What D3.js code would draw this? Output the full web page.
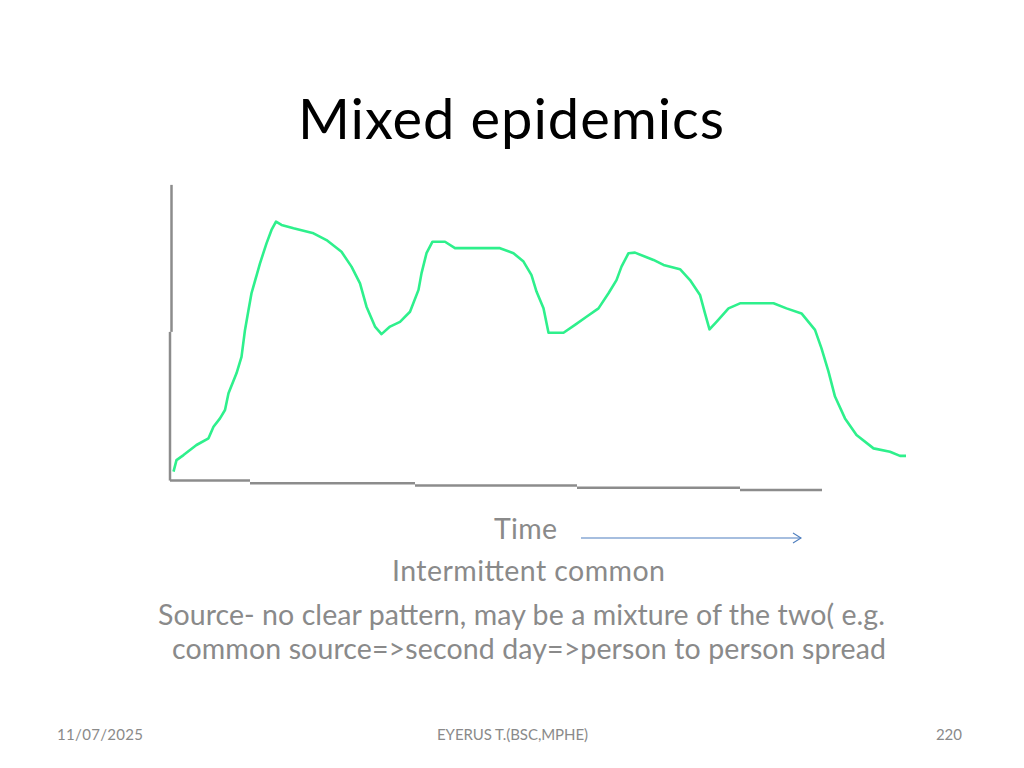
<!DOCTYPE html>
<html>
<head>
<meta charset="utf-8">
<script src="https://cdn.jsdelivr.net/npm/d3@7"></script>
<style>
  html, body { margin: 0; padding: 0; background: #fff; }
  svg { display: block; }
  text { font-family: Lato, "Open Sans", sans-serif; }
</style>
</head>
<body>
<svg id="chart" width="1024" height="768"></svg>
<script>
// ---- data (time units, case counts) ----
const timeUnits = [0.3,0.9,2.3,4.9,7.3,8.3,9.6,10.6,11.3,12.9,13.9,14.6,15.3,15.9,17.6,18.9,19.9,20.8,21.9,24.3,28.3,30.9,33.9,35.9,37.6,38.9,40.6,41.9,43.6,45.6,47.6,49.3,49.9,50.9,52.1,54.6,56.6,65.6,68.3,70.3,71.9,72.9,74.3,75.3,78.3,80.6,82.9,85.3,87.3,88.9,89.9,91.3,92.6,96.3,98.3,101.6,103.6,105.6,106.6,107.5,108.9,111.3,113.6,120.3,122.9,125.9,128.6,129.9,131.3,132.6,134.6,136.9,140.3,143.6,145.6,146.8];
const cases     = [3.0,7.1,8.9,12.5,14.9,19.0,22.0,25.0,31.0,38.1,44.0,53.6,60.7,66.7,77.4,84.5,89.3,92.3,91.1,89.9,88.1,85.7,81.5,76.2,70.2,61.9,54.8,52.1,54.8,56.5,60.1,67.9,73.8,81.0,85.1,85.1,82.8,82.8,81.0,78.0,73.2,67.3,61.3,52.6,52.6,55.4,58.3,61.3,66.7,71.4,76.2,81.0,81.2,78.6,76.8,75.3,71.4,66.1,59.5,53.8,56.5,61.3,63.1,63.1,61.3,59.5,53.6,47.0,38.7,29.8,22.0,16.1,11.3,10.1,8.6,8.6];

// hand-drawn axis pieces (data units)
const xAxisBreaks = [-0.4, 15.6, 48.6, 81.0, 113.6, 130.0];
const xAxisLevels = [-0.2, -1.2, -2.0, -2.8, -3.6];
const yAxisXs     = [-0.4, -0.1];
const yAxisBreaks = [-0.2, 52.9, 105.4];

const titleText = "Mixed epidemics";
const bodyLines = ["Time", "Intermittent common",
  "Source- no clear pattern, may be a mixture of the two( e.g.",
  "common source=>second day=>person to person spread"];
const footer = ["11/07/2025", "EYERUS T.(BSC,MPHE)", "220"];

// ---- drawing ----
const svg = d3.select("#chart");
const x = d3.scaleLinear().domain([0, 147]).range([172, 907]);
const y = d3.scaleLinear().domain([0, 100]).range([480, 200]);

const axisColor = "#8c8c8c";
const textGray = "#8a8a8a";

// title
svg.append("text").attr("x", 511).attr("y", 139).attr("text-anchor", "middle")
  .attr("font-size", 56).attr("textLength", 426).attr("lengthAdjust", "spacing")
  .attr("fill", "#000").text(titleText);

// y axis (two offset segments)
const gAx = svg.append("g").attr("stroke", axisColor).attr("stroke-width", 2.5).attr("fill", "none");
for (let i = 0; i < 2; i++) {
  gAx.append("line")
    .attr("x1", x(yAxisXs[i])).attr("x2", x(yAxisXs[i]))
    .attr("y1", y(yAxisBreaks[i])).attr("y2", y(yAxisBreaks[i + 1]));
}
// x axis (stepped segments)
for (let i = 0; i < xAxisLevels.length; i++) {
  gAx.append("line")
    .attr("x1", x(xAxisBreaks[i])).attr("x2", x(xAxisBreaks[i + 1]))
    .attr("y1", y(xAxisLevels[i])).attr("y2", y(xAxisLevels[i]));
}

// curve
const pts = timeUnits.map((t, i) => [t, cases[i]]);
svg.append("path").datum(pts)
  .attr("d", d3.line().x(d => x(d[0])).y(d => y(d[1])))
  .attr("fill", "none").attr("stroke", "#2ef08c").attr("stroke-width", 2.6)
  .attr("stroke-linejoin", "round");

// body text
const bodyPos = [[525.5, 539, 63], [528.5, 581, 273], [521.5, 625, 727], [529, 659, 714]];
bodyLines.forEach((t, i) => {
  svg.append("text").attr("x", bodyPos[i][0]).attr("y", bodyPos[i][1])
    .attr("text-anchor", "middle").attr("font-size", 28.5)
    .attr("textLength", bodyPos[i][2]).attr("lengthAdjust", "spacing")
    .attr("fill", textGray).text(t);
});

// time arrow
svg.append("line").attr("x1", 581).attr("x2", 801).attr("y1", 538).attr("y2", 538)
  .attr("stroke", "#4f7fbf").attr("stroke-width", 1.1);
svg.append("path").attr("d", "M793,533 L801,538 L793,543")
  .attr("fill", "none").attr("stroke", "#4f7fbf").attr("stroke-width", 1.1);

// footer
svg.append("text").attr("x", 57).attr("y", 740).attr("font-size", 15)
  .attr("textLength", 86).attr("lengthAdjust", "spacing").attr("fill", textGray).text(footer[0]);
svg.append("text").attr("x", 512.5).attr("y", 740).attr("text-anchor", "middle").attr("font-size", 15)
  .attr("textLength", 151).attr("lengthAdjust", "spacing").attr("fill", textGray).text(footer[1]);
svg.append("text").attr("x", 962).attr("y", 740).attr("text-anchor", "end").attr("font-size", 15)
  .attr("fill", textGray).text(footer[2]);
</script>
</body>
</html>
